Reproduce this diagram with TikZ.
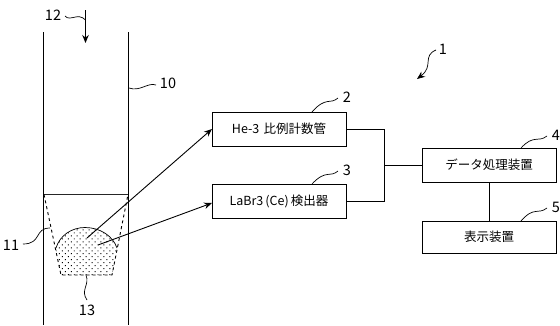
\documentclass[tikz,border=0pt]{standalone}
\usepackage{fontspec}
\setmainfont{Noto Sans CJK JP}
\usepackage{tikz}
\usetikzlibrary{patterns.meta, arrows.meta}

\tikzset{
    devbox/.style={draw, line width=1pt, minimum width=134pt, inner sep=0pt, outer sep=0pt},
    tag/.style={inner sep=0pt, font=\fontsize{14.5}{14.5}\selectfont},
    lead/.style={line width=0.7pt},
    wall/.style={line width=1pt},
    ray/.style={-{Stealth[length=8pt, width=6.5pt]}, line width=0.9pt}
}

\begin{document}
\begin{tikzpicture}[x=1pt, y=-1pt, font=\fontsize{12.5}{14}\selectfont]
        \useasboundingbox (0,0) rectangle (560,325);

        % tube
        \coordinate (wallLtop) at (43.5,32);
        \coordinate (wallLend) at (43.5,325);
        \coordinate (wallRtop) at (128.5,32);
        \coordinate (wallRend) at (128.5,325);
        \draw[wall] (wallLtop) -- (wallLend);
        \draw[wall] (wallRtop) -- (wallRend);
        \draw[line width=1.6pt, black!85] (44,194.5) coordinate (rimL) -- (128,194.5) coordinate (rimR);

        % sample
        \fill[pattern={Dots[distance=4.2pt, radius=0.7pt, angle=45]}, pattern color=black] (56,248) .. controls (60,235) and (72,227.5) .. (85,227.5)
            .. controls (100,227.5) and (113,236) .. (117,248) -- (112,275) -- (61,275) -- cycle;
        \draw[lead] (56,248) .. controls (60,235) and (72,227.5) .. (85,227.5)
            .. controls (100,227.5) and (113,236) .. (117,248);
        \draw[dashed, line width=0.9pt] (rimL) -- (61,275) -- (112,275) -- (rimR);

        % devices
        \node[devbox, minimum height=34pt] (hebox) at (279,129) {He-3\,\,比例計数管};
        \node[devbox, minimum height=34pt] (labox) at (279,201) {LaBr3\,(Ce)\,検出器};
        \node[devbox, minimum height=34pt] (databox) at (489,165) {データ処理装置};
        \node[devbox, minimum height=32pt] (dispbox) at (489,237) {表示装置};

        \coordinate (bus) at (384,165);
        \draw[wall] (hebox.east) -| (bus);
        \draw[wall] (labox.east) -| (bus);
        \draw[wall] (bus) -- (databox.west);
        \draw[wall] (databox) -- (dispbox);

        % rays
        \coordinate (heray) at (87,238);
        \coordinate (laray) at (98,245);
        \draw[ray] (heray) -- (hebox.west);
        \draw[ray] (laray) -- ([yshift=-2pt]labox.west);

        % numbers
        \node[tag] (n1) at (443,49) {1};
        \node[tag] (n2) at (347,97) {2};
        \node[tag] (n3) at (347,170) {3};
        \node[tag] (n4) at (556,135) {4};
        \node[tag] (n5) at (556,207) {5};
        \node[tag] (n10) at (168,83) {10};
        \node[tag] (n11) at (11,245) {11};
        \node[tag] (n12) at (53,15) {12};
        \node[tag] (n13) at (87,310) {13};

        % leaders
        \coordinate (beam) at (85.5,10);
        \coordinate (beamend) at (85.5,43);
        \draw[ray] (beam) -- (beamend);
        \draw[lead] (65,16) .. controls (70,22) and (78,12) .. (85.5,20);
        \draw[lead] (156,85) .. controls (148,82) and (140,92) .. (129,88);
        \draw[lead] (23,244) .. controls (42,244) and (34,228) .. (50,228);
        \draw[lead] (87,300) .. controls (80,290) and (90,285) .. (86,275);
        \draw[lead] (338,98) .. controls (330,105) and (326,96) .. (312,112);
        \draw[lead] (338,171) .. controls (330,178) and (326,169) .. (312,184);
        \draw[lead] (547,136) .. controls (538,143) and (534,134) .. (521,148);
        \draw[lead] (547,208) .. controls (538,215) and (534,206) .. (521,221);
        \draw[ray, line width=0.7pt] (436,50) .. controls (422,56) and (434,66) .. (417,79);
    \end{tikzpicture}
\end{document}
